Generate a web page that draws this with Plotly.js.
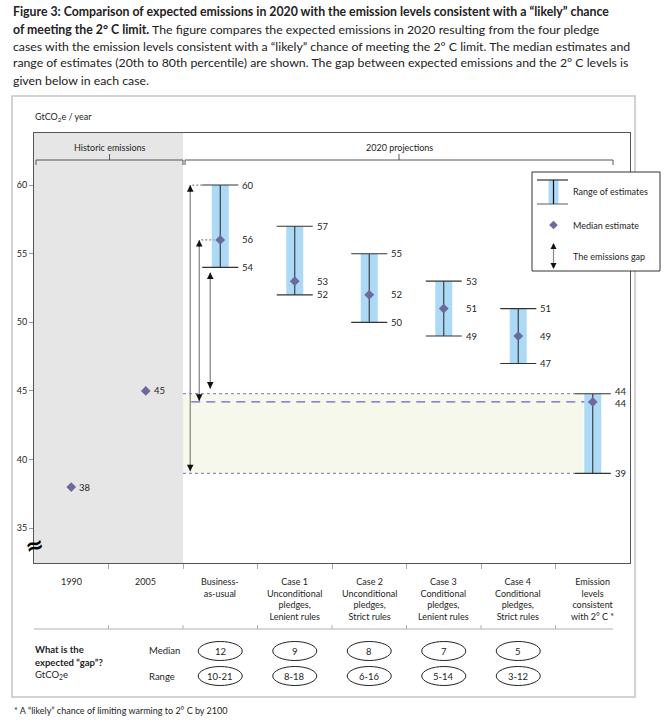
<!DOCTYPE html>
<html><head><meta charset="utf-8">
<script src="https://cdn.plot.ly/plotly-3.0.1.min.js"></script>
<style>html,body{margin:0;padding:0;background:#fff;} #chart{width:668px;height:726px;}</style>
</head><body><div id="chart"></div>
<script>
// ---------- DATA ----------
const categories = ['1990','2005','Business-<br>as-usual','Case 1<br>Unconditional<br>pledges,<br>Lenient rules','Case 2<br>Unconditional<br>pledges,<br>Strict rules','Case 3<br>Conditional<br>pledges,<br>Lenient rules','Case 4<br>Conditional<br>pledges,<br>Strict rules','Emission<br>levels<br>consistent<br>with 2° C *'];
const historicX = [0, 1];
const historicValues = [38, 45];
const historicLabels = ['38', '45'];
const projX = [2, 3, 4, 5, 6, 7];
const projLow = [54, 52, 50, 49, 47, 39];
const projMedian = [56, 53, 52, 51, 49, 44.2];
const projHigh = [60, 57, 55, 53, 51, 44.8];
const projLowLabels = ['54', '52', '50', '49', '47', '39'];
const projMedianLabels = ['56', '53', '52', '51', '49', '44'];
const projHighLabels = ['60', '57', '55', '53', '51', '44'];
const gapX = [2, 3, 4, 5, 6];
const gapMedian = ['12', '9', '8', '7', '5'];
const gapRange = ['10-21', '8-18', '6-16', '5-14', '3-12'];
const yTicks = [35, 40, 45, 50, 55, 60];
const titleLines = [
  '<b>Figure 3: Comparison of expected emissions in 2020 with the emission levels consistent with a “likely” chance</b>',
  '<b>of meeting the 2° C limit.</b> The figure compares the expected emissions in 2020 resulting from the four pledge',
  'cases with the emission levels consistent with a “likely” chance of meeting the 2° C limit. The median estimates and',
  'range of estimates (20th to 80th percentile) are shown. The gap between expected emissions and the 2° C levels is',
  'given below in each case.'
];

// ---------- GEOMETRY ----------
const W = 668, H = 726, L = 34, R = 630, T = 133, B = 563;
const YMIN = 32.47, YMAX = 63.79;
const xp = px => (px - L) / (R - L);
const yp = py => (B - py) / (B - T);
const UX = (R - L) / 8;
const UY = (B - T) / (YMAX - YMIN);
const dx = px => px / UX;
const dy = px => px / UY;
const FONT = 'Lato, "Open Sans", sans-serif';
const TXT = '#1e1e1e';
const DIAMOND = '#6b6a9b';
const BLUE = '#acd9f5';

const shapes = [];
const annotations = [];
const line = (x0, y0, x1, y1, color, width, extra) => Object.assign({type: 'line', x0, y0, x1, y1, line: {color, width}}, extra || {});
const P = {xref: 'paper', yref: 'paper'};

// historic grey region
shapes.push({type: 'rect', xref: 'x', yref: 'paper', x0: -0.5, x1: 1.5, y0: 0, y1: 1, fillcolor: '#e6e6e6', line: {width: 0}, layer: 'below'});
// gap fill
const c2 = projX[5];
shapes.push({type: 'rect', xref: 'x', yref: 'y', x0: 1.5, x1: c2 - dx(9), y0: projLow[5], y1: projHigh[5], fillcolor: '#f7f8ec', line: {width: 0}, layer: 'below'});
// dashed reference lines
shapes.push({type: 'line', xref: 'x', yref: 'y', layer: 'below', x0: 1.5, x1: c2 - dx(18), y0: projHigh[5], y1: projHigh[5], line: {color: '#8c8cd2', width: 1.2, dash: '3px,3px'}});
shapes.push({type: 'line', xref: 'x', yref: 'y', layer: 'below', x0: 1.5, x1: c2 - dx(18), y0: projLow[5], y1: projLow[5], line: {color: '#8c8cd2', width: 1.2, dash: '3px,3px'}});
shapes.push({type: 'line', xref: 'x', yref: 'y', layer: 'below', x0: projX[0] - dx(29), x1: c2, y0: projMedian[5], y1: projMedian[5], line: {color: '#6464c4', width: 1.2, dash: '9px,6px'}});

// emission-gap arrows (from BAU to 2C levels)
const c0 = projX[0];
const arrowOff = [-30, -21, -10];
const arrowTop = [projHigh[0], projMedian[0], projLow[0] - dy(5)];
const arrowBot = [projLow[5] + dy(2), projMedian[5] + dy(1), projHigh[5] + dy(5)];
arrowOff.forEach((o, i) => {
  const x = c0 + dx(o);
  shapes.push(line(x, arrowTop[i], x, arrowBot[i], '#8a8a8a', 1.3, {xref: 'x', yref: 'y'}));
  annotations.push({xref: 'x', yref: 'y', x, y: arrowTop[i], ax: 0, ay: 8, text: '', showarrow: true, arrowhead: 2, arrowsize: 1.1, arrowwidth: 1.2, arrowcolor: '#111'});
  annotations.push({xref: 'x', yref: 'y', x, y: arrowBot[i], ax: 0, ay: -8, text: '', showarrow: true, arrowhead: 2, arrowsize: 1.1, arrowwidth: 1.2, arrowcolor: '#111'});
});
// dotted connectors
shapes.push({type: 'line', xref: 'x', yref: 'y', x0: c0 + dx(-28), x1: c0 - dx(18), y0: projHigh[0], y1: projHigh[0], line: {color: '#888', width: 1.2, dash: '2px,2px'}});
shapes.push({type: 'line', xref: 'x', yref: 'y', x0: c0 + dx(-19), x1: c0 - dx(6), y0: projMedian[0], y1: projMedian[0], line: {color: '#888', width: 1.2, dash: '2px,2px'}});

// value labels
projX.forEach((x, i) => {
  const last = i === projX.length - 1;
  [[projHigh[i], projHighLabels[i], last ? 2 : 0], [projMedian[i], projMedianLabels[i], last ? -2 : 0], [projLow[i], projLowLabels[i], 0]].forEach(([v, t, ys]) => {
    annotations.push({xref: 'x', yref: 'y', x, y: v, xanchor: 'left', yanchor: 'middle', xshift: 20, yshift: ys, text: t, showarrow: false, font: {family: FONT, size: 9.5, color: TXT}});
  });
});
historicX.forEach((x, i) => {
  annotations.push({xref: 'x', yref: 'y', x, y: historicValues[i], xanchor: 'left', yanchor: 'middle', xshift: 6, text: historicLabels[i], showarrow: false, font: {family: FONT, size: 9.5, color: TXT}});
});

// category labels
categories.forEach((c, i) => {
  annotations.push({xref: 'x', yref: 'paper', x: i, y: yp(574), xanchor: 'center', yanchor: 'top', text: c, showarrow: false, align: 'center', font: {family: FONT, size: 9, color: TXT}});
});
// separator line below labels
shapes.push(line(xp(34), yp(629), xp(613), yp(629), '#b0b0b0', 1, P));
for (let k = 0.5; k < 7; k += 1) {
  shapes.push({type: 'line', xref: 'x', yref: 'paper', x0: k, x1: k, y0: yp(629), y1: yp(625), line: {color: '#b0b0b0', width: 1}});
}

// header brackets
const bracket = (xa, xb, label) => {
  shapes.push(line(xp(xa), yp(160), xp(xb), yp(160), '#555', 1, P));
  shapes.push(line(xp(xa), yp(160), xp(xa), yp(165), '#555', 1, P));
  shapes.push(line(xp(xb), yp(160), xp(xb), yp(165), '#555', 1, P));
  const m = (xa + xb) / 2;
  shapes.push(line(xp(m), yp(160), xp(m), yp(154), '#555', 1, P));
  annotations.push({xref: 'paper', yref: 'paper', x: xp(m), y: yp(147), xanchor: 'center', yanchor: 'middle', text: label, showarrow: false, font: {family: FONT, size: 9, color: TXT}});
};
bracket(36, 183, 'Historic emissions');
bracket(185, 613, '2020 projections');

// y-axis unit
annotations.push({xref: 'paper', yref: 'paper', x: xp(33), y: yp(117), xanchor: 'left', yanchor: 'middle', text: 'GtCO<sub>2</sub>e / year', showarrow: false, font: {family: FONT, size: 9, color: TXT}});
// axis break symbol
annotations.push({xref: 'paper', yref: 'paper', x: xp(34), y: yp(545), xanchor: 'center', yanchor: 'middle', text: '<b>≈</b>', showarrow: false, textangle: -15, font: {family: 'DejaVu Sans', size: 22, color: '#000'}});

// outer frame
shapes.push({type: 'rect', xref: 'paper', yref: 'paper', x0: xp(12), x1: xp(635), y0: yp(96), y1: yp(697), line: {color: '#c4c4c4', width: 1.5}, fillcolor: 'rgba(0,0,0,0)'});

// gap table
const tfont = {family: FONT, size: 9.5, color: TXT};
annotations.push({xref: 'paper', yref: 'paper', x: xp(33), y: yp(649), xanchor: 'left', yanchor: 'middle', text: '<b>What is the</b>', showarrow: false, font: tfont});
annotations.push({xref: 'paper', yref: 'paper', x: xp(33), y: yp(662), xanchor: 'left', yanchor: 'middle', text: '<b>expected “gap”?</b>', showarrow: false, font: tfont});
annotations.push({xref: 'paper', yref: 'paper', x: xp(33), y: yp(675), xanchor: 'left', yanchor: 'middle', text: 'GtCO<sub>2</sub>e', showarrow: false, font: tfont});
annotations.push({xref: 'paper', yref: 'paper', x: xp(147), y: yp(650), xanchor: 'left', yanchor: 'middle', text: 'Median', showarrow: false, font: tfont});
annotations.push({xref: 'paper', yref: 'paper', x: xp(147), y: yp(676), xanchor: 'left', yanchor: 'middle', text: 'Range', showarrow: false, font: tfont});
gapX.forEach((x, i) => {
  [[gapMedian[i], 651], [gapRange[i], 676]].forEach(([t, py]) => {
    shapes.push({type: 'circle', xref: 'x', yref: 'paper', x0: x - dx(22), x1: x + dx(22), y0: yp(py - 9.5), y1: yp(py + 9.5), line: {color: '#222', width: 1}, fillcolor: '#fff'});
    annotations.push({xref: 'x', yref: 'paper', x, y: yp(py), xanchor: 'center', yanchor: 'middle', text: t, showarrow: false, font: tfont});
  });
});

// footnote
annotations.push({xref: 'paper', yref: 'paper', x: xp(12), y: yp(710), xanchor: 'left', yanchor: 'middle', text: '* A “likely” chance of limiting warming to 2° C by 2100', showarrow: false, font: {family: FONT, size: 9, color: TXT}});

// title
titleLines.forEach((t, i) => {
  annotations.push({xref: 'paper', yref: 'paper', x: xp(11), y: yp(12 + 17 * i), xanchor: 'left', yanchor: 'middle', text: t, showarrow: false, align: 'left', font: {family: FONT, size: 12.3, color: '#222'}});
});

// legend
shapes.push({type: 'rect', xref: 'paper', yref: 'paper', x0: xp(532), x1: xp(660), y0: yp(172), y1: yp(271), fillcolor: '#fff', line: {color: '#333', width: 1}});
shapes.push({type: 'rect', xref: 'paper', yref: 'paper', x0: xp(548.5), x1: xp(558.5), y0: yp(180), y1: yp(204), fillcolor: BLUE, line: {width: 0}});
shapes.push(line(xp(537), yp(180), xp(568), yp(180), '#333', 1.2, P));
shapes.push(line(xp(537), yp(204), xp(568), yp(204), '#777', 1.2, P));
shapes.push(line(xp(553.5), yp(180), xp(553.5), yp(204), '#111', 1.2, P));
const lx = xp(553.5), ly = 225, ds = 4.3;
shapes.push({type: 'path', xref: 'paper', yref: 'paper', path: `M ${lx},${yp(ly - ds)} L ${xp(553.5 + ds)},${yp(ly)} L ${lx},${yp(ly + ds)} L ${xp(553.5 - ds)},${yp(ly)} Z`, fillcolor: DIAMOND, line: {width: 0}});
shapes.push(line(lx, yp(244), lx, yp(268), '#8a8a8a', 1.2, P));
annotations.push({xref: 'paper', yref: 'paper', x: lx, y: yp(243), ax: 0, ay: 7, text: '', showarrow: true, arrowhead: 2, arrowsize: 1, arrowwidth: 1.2, arrowcolor: '#111'});
annotations.push({xref: 'paper', yref: 'paper', x: lx, y: yp(269), ax: 0, ay: -7, text: '', showarrow: true, arrowhead: 2, arrowsize: 1, arrowwidth: 1.2, arrowcolor: '#111'});
[['Range of estimates', 191], ['Median estimate', 225], ['The emissions gap', 256]].forEach(([t, py]) => {
  annotations.push({xref: 'paper', yref: 'paper', x: xp(571), y: yp(py), xanchor: 'left', yanchor: 'middle', text: t, showarrow: false, font: {family: FONT, size: 9, color: TXT}});
});

// ---------- TRACES ----------
const traces = [
  {type: 'bar', x: projX, base: projLow, y: projHigh.map((h, i) => h - projLow[i]), width: dx(17), marker: {color: BLUE, line: {width: 0}}, hoverinfo: 'skip'},
  {type: 'scatter', mode: 'markers', x: projX, y: projMedian, marker: {symbol: 'diamond', size: 7.5, color: DIAMOND},
   error_y: {type: 'data', symmetric: false, array: projHigh.map((h, i) => h - projMedian[i]), arrayminus: projMedian.map((m, i) => m - projLow[i]), width: 18, thickness: 1.1, color: '#333'}},
  {type: 'scatter', mode: 'markers', x: historicX, y: historicValues, marker: {symbol: 'diamond', size: 7.5, color: DIAMOND}}
];

const layout = {
  width: W, height: H,
  margin: {l: L, r: W - R, t: T, b: H - B, pad: 0},
  paper_bgcolor: '#fff', plot_bgcolor: '#fff',
  showlegend: false,
  font: {family: FONT, size: 9, color: TXT},
  xaxis: {type: 'linear', range: [-0.5, 7.5], showgrid: false, zeroline: false, showline: true, mirror: true, linecolor: '#555', linewidth: 1,
    tickmode: 'array', tickvals: [0.5, 1.5, 2.5, 3.5, 4.5, 5.5, 6.5], ticks: 'outside', ticklen: 5, tickcolor: '#aaa', showticklabels: false},
  yaxis: {range: [YMIN, YMAX], showgrid: false, zeroline: false, showline: true, mirror: true, linecolor: '#555', linewidth: 1,
    tickmode: 'array', tickvals: yTicks, ticktext: yTicks.map(String), ticks: 'outside', ticklen: 4, tickcolor: '#999',
    tickfont: {family: FONT, size: 9, color: TXT}},
  shapes, annotations
};

Plotly.newPlot('chart', traces, layout, {displayModeBar: false, staticPlot: true});
</script></body></html>
